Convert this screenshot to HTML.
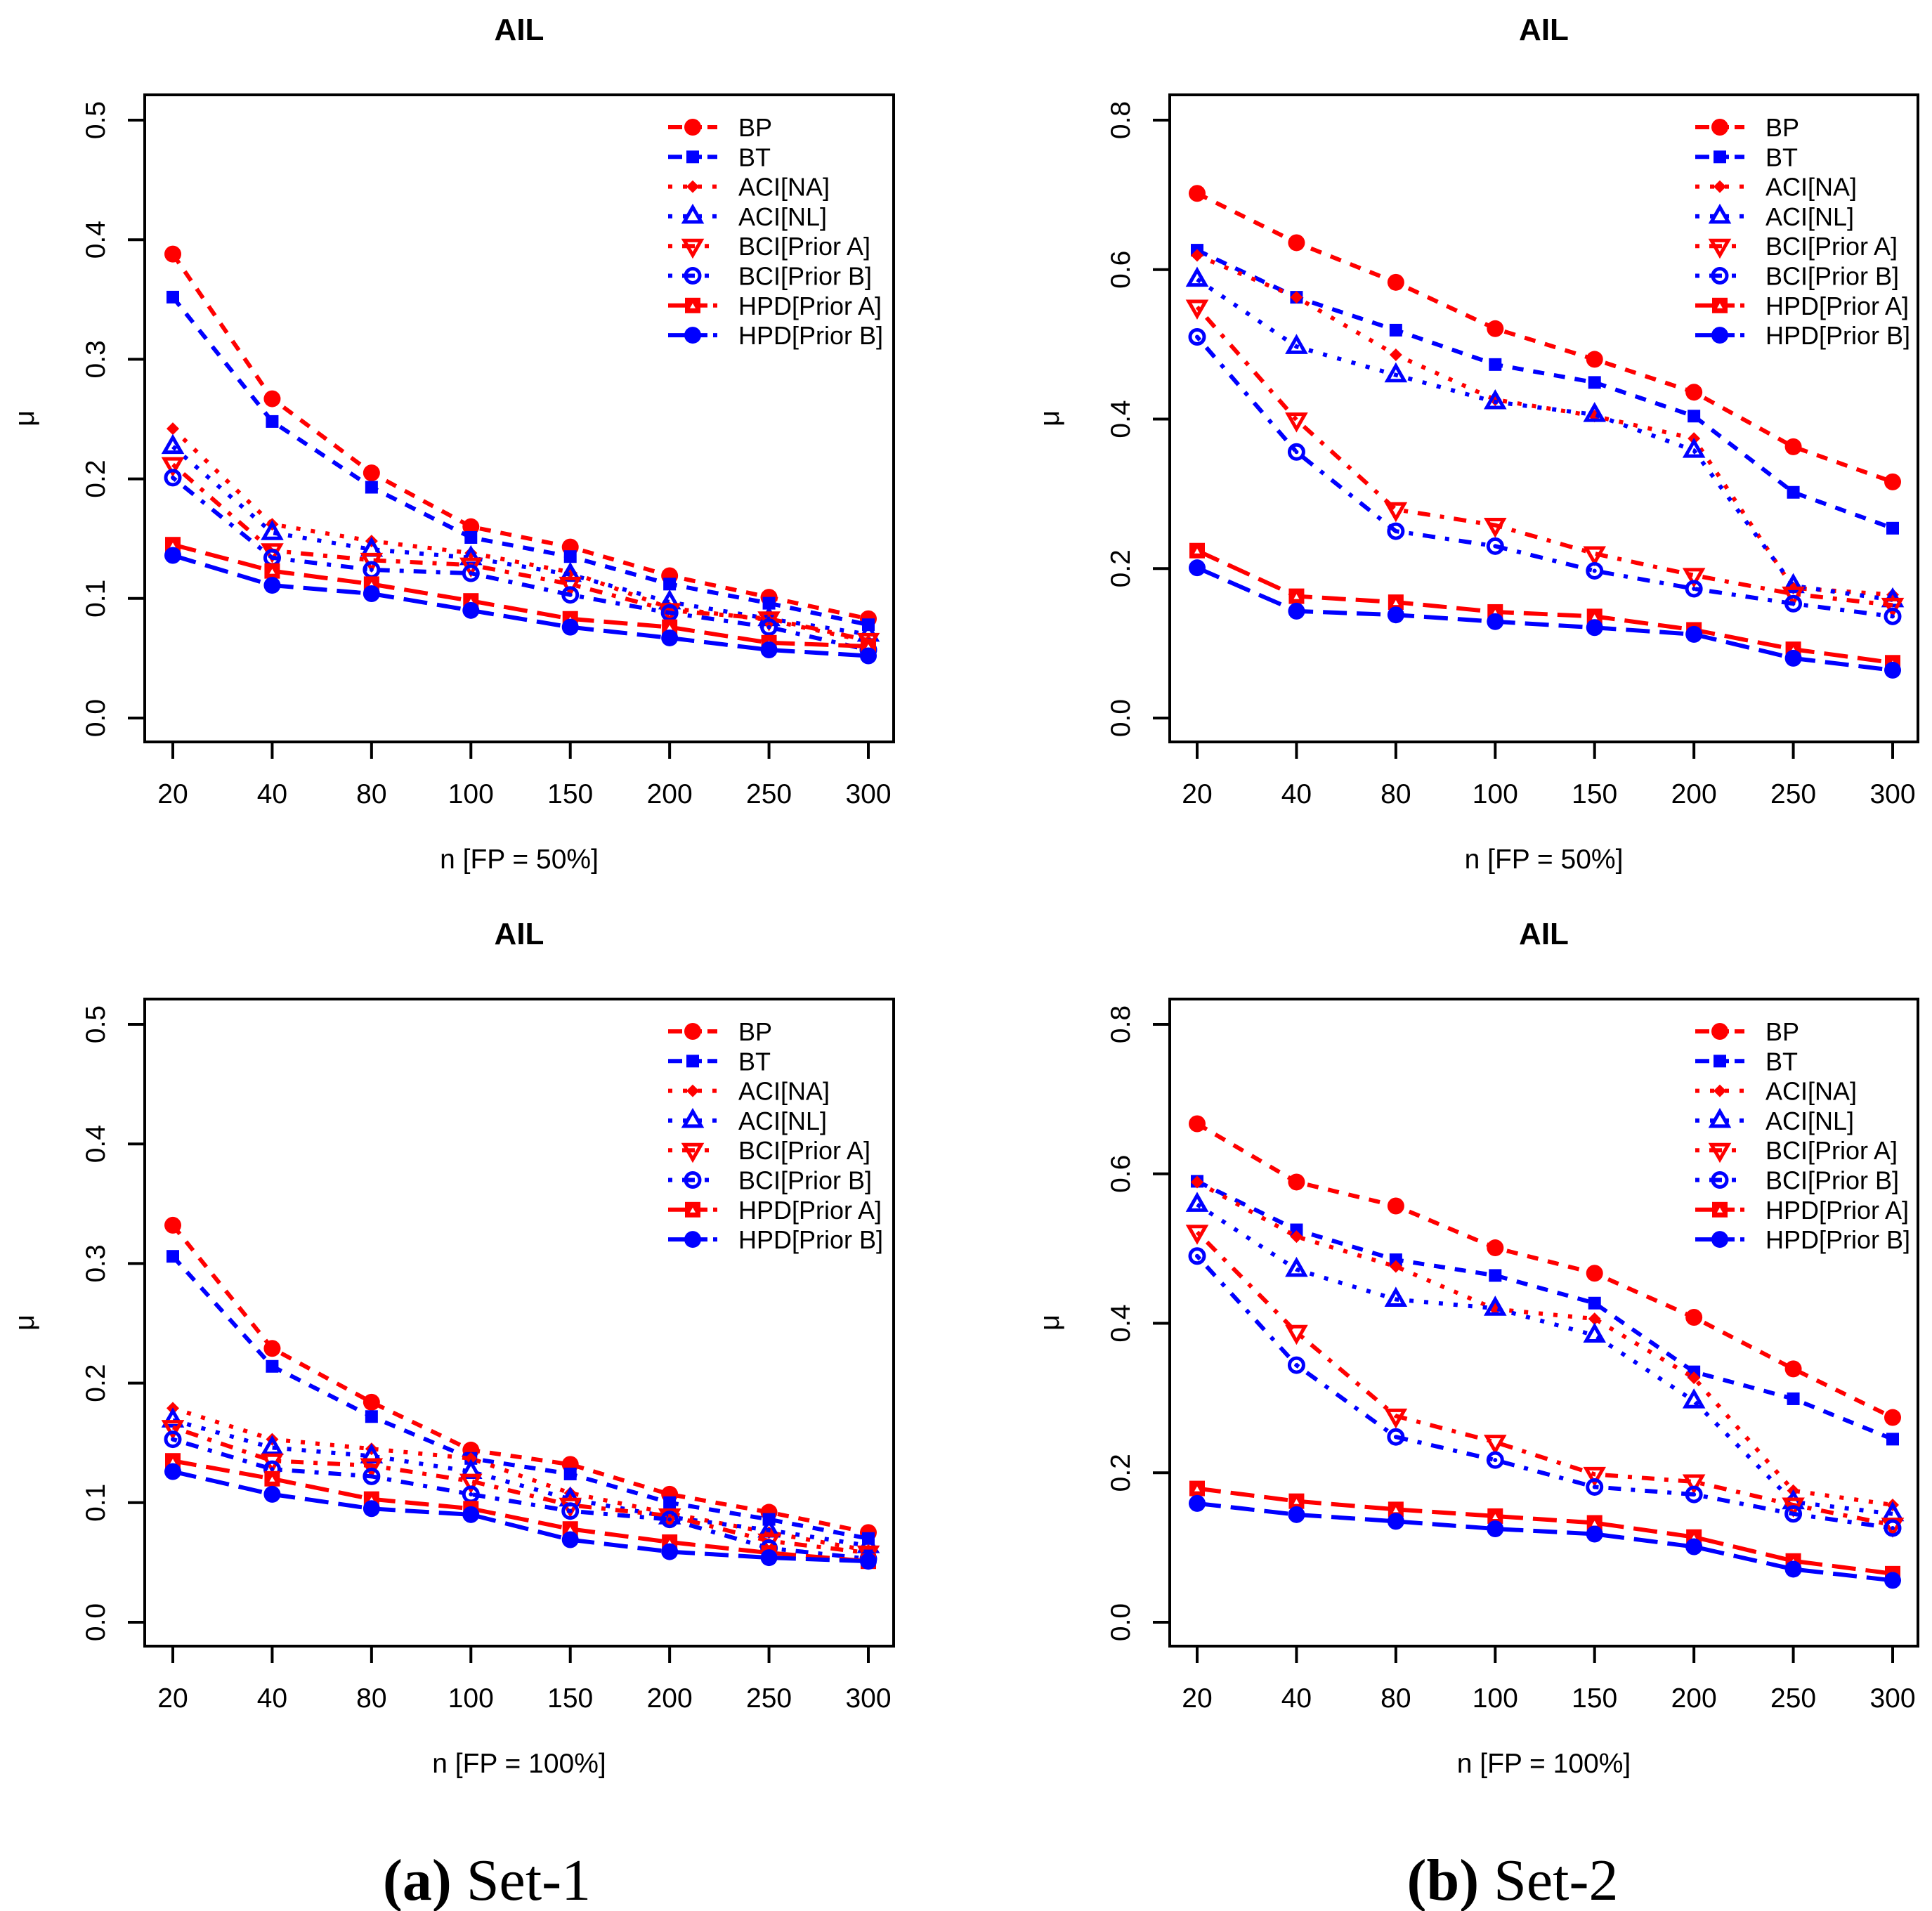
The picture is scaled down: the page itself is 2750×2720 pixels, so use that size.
<!DOCTYPE html>
<html><head><meta charset="utf-8"><style>
html,body{margin:0;padding:0;background:#fff;}
svg{display:block;font-family:"Liberation Sans",sans-serif;}
</style></head><body>
<svg id="fig" width="2750" height="2720" viewBox="0 0 2750 2720" xmlns="http://www.w3.org/2000/svg">
<rect width="2750" height="2720" fill="#fff"/>
<text x="693" y="2704" text-anchor="middle" font-family="Liberation Serif, serif" font-size="84"><tspan font-weight="bold">(a)</tspan> Set-1</text>
<text x="2153" y="2704" text-anchor="middle" font-family="Liberation Serif, serif" font-size="84"><tspan font-weight="bold">(b)</tspan> Set-2</text>
</svg>
<script>
const categories = ["20","40","80","100","150","200","250","300"];
const seriesNames = ["BP","BT","ACI[NA]","ACI[NL]","BCI[Prior A]","BCI[Prior B]","HPD[Prior A]","HPD[Prior B]"];
const yTicksSet1 = [0,0.1,0.2,0.3,0.4,0.5];
const yTickLabelsSet1 = ["0.0","0.1","0.2","0.3","0.4","0.5"];
const yTicksSet2 = [0,0.2,0.4,0.6,0.8];
const yTickLabelsSet2 = ["0.0","0.2","0.4","0.6","0.8"];
// Panel: Set-1, FP=50%
const s1fp50_BP   = [0.388,0.267,0.205,0.160,0.143,0.119,0.101,0.083];
const s1fp50_BT   = [0.352,0.248,0.193,0.151,0.135,0.112,0.096,0.078];
const s1fp50_ACINA= [0.242,0.162,0.148,0.138,0.122,0.092,0.082,0.064];
const s1fp50_ACINL= [0.227,0.155,0.141,0.134,0.120,0.097,0.083,0.070];
const s1fp50_BCIA = [0.212,0.140,0.132,0.128,0.112,0.090,0.083,0.065];
const s1fp50_BCIB = [0.201,0.134,0.124,0.121,0.103,0.088,0.076,0.057];
const s1fp50_HPDA = [0.145,0.123,0.112,0.098,0.083,0.076,0.063,0.060];
const s1fp50_HPDB = [0.136,0.111,0.104,0.090,0.076,0.067,0.057,0.052];
// Panel: Set-2, FP=50%
const s2fp50_BP   = [0.702,0.636,0.583,0.521,0.480,0.436,0.363,0.316];
const s2fp50_BT   = [0.626,0.563,0.519,0.473,0.449,0.404,0.302,0.254];
const s2fp50_ACINA= [0.619,0.563,0.486,0.426,0.404,0.374,0.174,0.165];
const s2fp50_ACINL= [0.587,0.497,0.459,0.423,0.406,0.358,0.177,0.158];
const s2fp50_BCIA = [0.550,0.399,0.279,0.258,0.220,0.191,0.166,0.151];
const s2fp50_BCIB = [0.510,0.356,0.250,0.230,0.197,0.173,0.153,0.136];
const s2fp50_HPDA = [0.224,0.163,0.155,0.142,0.136,0.118,0.092,0.074];
const s2fp50_HPDB = [0.201,0.143,0.138,0.129,0.121,0.112,0.080,0.064];
// Panel: Set-1, FP=100%
const s1fp100_BP   = [0.332,0.229,0.184,0.144,0.132,0.107,0.092,0.075];
const s1fp100_BT   = [0.306,0.214,0.172,0.137,0.124,0.100,0.086,0.070];
const s1fp100_ACINA= [0.179,0.153,0.145,0.137,0.108,0.091,0.075,0.060];
const s1fp100_ACINL= [0.169,0.146,0.139,0.126,0.103,0.088,0.077,0.064];
const s1fp100_BCIA = [0.163,0.135,0.131,0.118,0.098,0.089,0.068,0.058];
const s1fp100_BCIB = [0.153,0.128,0.122,0.107,0.093,0.086,0.062,0.053];
const s1fp100_HPDA = [0.135,0.120,0.103,0.095,0.078,0.067,0.058,0.051];
const s1fp100_HPDB = [0.126,0.107,0.095,0.090,0.069,0.059,0.054,0.051];
// Panel: Set-2, FP=100%
const s2fp100_BP   = [0.667,0.589,0.557,0.501,0.467,0.408,0.339,0.274];
const s2fp100_BT   = [0.590,0.525,0.485,0.464,0.427,0.335,0.299,0.245];
const s2fp100_ACINA= [0.589,0.516,0.476,0.419,0.406,0.327,0.176,0.157];
const s2fp100_ACINL= [0.559,0.472,0.432,0.420,0.384,0.296,0.161,0.145];
const s2fp100_BCIA = [0.522,0.388,0.276,0.241,0.198,0.188,0.157,0.130];
const s2fp100_BCIB = [0.490,0.344,0.248,0.217,0.181,0.171,0.145,0.126];
const s2fp100_HPDA = [0.179,0.162,0.151,0.142,0.133,0.114,0.082,0.065];
const s2fp100_HPDB = [0.159,0.144,0.135,0.125,0.118,0.101,0.071,0.056];

const NS="http://www.w3.org/2000/svg";
const svg=document.getElementById('fig');
function mk(tag,attrs,parent){const e=document.createElementNS(NS,tag);for(const k in attrs)e.setAttribute(k,attrs[k]);(parent||svg).appendChild(e);return e;}

const RED="#ff0000", BLUE="#0000ff";
const styles=[
 {c:RED,dash:"16 14",ldash:"20 8",m:"circle"},
 {c:BLUE,dash:"16 14",ldash:"20 8",m:"square"},
 {c:RED,dash:"6 15",ldash:"6 15",m:"diamond"},
 {c:BLUE,dash:"6 15",ldash:"6 15",m:"triangle"},
 {c:RED,dash:"6 14 18 14",ldash:"6 14 18 14",m:"dtriangle"},
 {c:BLUE,dash:"6 14 18 14",ldash:"6 14 18 14",m:"circledot"},
 {c:RED,dash:"34 14",ldash:"24 8",m:"sqtri"},
 {c:BLUE,dash:"34 14",ldash:"24 8",m:"circleplus"}
];

function marker(g,type,x,y,c){
  let e;
  if(type==="circle"){e=mk('circle',{cx:x,cy:y,r:12,fill:c},g);}
  else if(type==="square"){e=mk('rect',{x:x-9,y:y-9,width:18,height:18,fill:c},g);}
  else if(type==="diamond"){e=mk('polygon',{points:`${x},${y-9} ${x+9},${y} ${x},${y+9} ${x-9},${y}`,fill:c},g);}
  else if(type==="triangle"){e=mk('polygon',{points:`${x},${y-13} ${x+12},${y+8} ${x-12},${y+8}`,fill:"none",stroke:c,"stroke-width":5},g);}
  else if(type==="dtriangle"){e=mk('polygon',{points:`${x},${y+13} ${x+12},${y-8} ${x-12},${y-8}`,fill:"none",stroke:c,"stroke-width":5},g);}
  else if(type==="circledot"){e=mk('g',{},g);mk('circle',{cx:x,cy:y,r:10,fill:"none",stroke:c,"stroke-width":5},e);mk('circle',{cx:x,cy:y,r:3,fill:c},e);}
  else if(type==="sqtri"){e=mk('g',{},g);mk('rect',{x:x-11,y:y-11,width:22,height:22,fill:c},e);mk('polygon',{points:`${x},${y-3} ${x+4},${y+4} ${x-4},${y+4}`,fill:"#fff"},e);}
  else if(type==="circleplus"){e=mk('circle',{cx:x,cy:y,r:12,fill:c},g);}
  return e;
}

function panel(p){
  const g=mk('g',{});
  
  
  const xs=i=>p.x0+(p.x1-p.x0)*i/(categories.length-1);
  const ys=v=>p.y0+(p.yTop-p.y0)*v/p.yMax;
  const box=mk('rect',{x:p.L,y:p.T,width:p.R-p.L,height:p.B-p.T,fill:"none",stroke:"#000","stroke-width":4},g);
  
  
  const t=mk('text',{x:(p.L+p.R)/2,y:p.T-78,"text-anchor":"middle","font-size":44,"font-weight":"bold"},g);
  t.textContent="AIL";
  
  
  const xa=mk('g',{},g);
  
  
  categories.forEach((c,i)=>{
    mk('line',{x1:xs(i),x2:xs(i),y1:p.B,y2:p.B+24,stroke:"#000","stroke-width":4},xa);
    const tl=mk('text',{x:xs(i),y:p.B+87,"text-anchor":"middle","font-size":39},xa);
    tl.textContent=c;
    
    
  });
  const xl=mk('text',{x:(p.L+p.R)/2,y:p.B+180,"text-anchor":"middle","font-size":39},g);
  xl.textContent=p.xlabel;
  
  
  const ya=mk('g',{},g);
  
  
  p.yt.forEach((v,i)=>{
    mk('line',{x1:p.L-24,x2:p.L,y1:ys(v),y2:ys(v),stroke:"#000","stroke-width":4},ya);
    const tx=p.L-57;
    const tl=mk('text',{x:tx,y:ys(v),"text-anchor":"middle","font-size":39,transform:`rotate(-90 ${tx} ${ys(v)})`},ya);
    tl.textContent=p.ytl[i];
    
    
  });
  const ymid=(p.T+p.B)/2;
  const yl=mk('text',{x:p.L-158,y:ymid,"text-anchor":"middle","font-size":40,transform:`rotate(-90 ${p.L-158} ${ymid})`},g);
  yl.textContent="μ";
  
  
  p.series.forEach((vals,si)=>{
    const st=styles[si];
    const sg=mk('g',{},g);
    
    
    const pts=vals.map((v,i)=>xs(i)+","+ys(v)).join(" ");
    mk('polyline',{points:pts,fill:"none",stroke:st.c,"stroke-width":6,"stroke-dasharray":st.dash},sg);
    vals.forEach((v,i)=>{
      const m=marker(sg,st.m,xs(i),ys(v),st.c);
      
      
    });
  });
  const lg=mk('g',{},g);
  
  
  seriesNames.forEach((n,i)=>{
    const yy=p.T+46+i*42.3;
    const le=mk('g',{},lg);
    
    
    const st=styles[i];
    mk('line',{x1:p.legX,x2:p.legX+70,y1:yy,y2:yy,stroke:st.c,"stroke-width":6,"stroke-dasharray":st.ldash},le);
    marker(le,st.m,p.legX+35,yy,st.c);
    const tx=mk('text',{x:p.legX+100,y:yy+13,"font-size":36},le);
    tx.textContent=n;
  });
}

panel({name:'panel-set1-fp50',L:206,R:1272,T:135,B:1056,x0:246,x1:1236,y0:1022,yTop:171,yMax:0.5,yt:yTicksSet1,ytl:yTickLabelsSet1,xlabel:"n [FP = 50%]",legX:951,
  series:[s1fp50_BP,s1fp50_BT,s1fp50_ACINA,s1fp50_ACINL,s1fp50_BCIA,s1fp50_BCIB,s1fp50_HPDA,s1fp50_HPDB]});
panel({name:'panel-set2-fp50',L:1665,R:2730,T:135,B:1056,x0:1704,x1:2694,y0:1022,yTop:171,yMax:0.8,yt:yTicksSet2,ytl:yTickLabelsSet2,xlabel:"n [FP = 50%]",legX:2413,
  series:[s2fp50_BP,s2fp50_BT,s2fp50_ACINA,s2fp50_ACINL,s2fp50_BCIA,s2fp50_BCIB,s2fp50_HPDA,s2fp50_HPDB]});
panel({name:'panel-set1-fp100',L:206,R:1272,T:1422,B:2343,x0:246,x1:1236,y0:2309,yTop:1458,yMax:0.5,yt:yTicksSet1,ytl:yTickLabelsSet1,xlabel:"n [FP = 100%]",legX:951,
  series:[s1fp100_BP,s1fp100_BT,s1fp100_ACINA,s1fp100_ACINL,s1fp100_BCIA,s1fp100_BCIB,s1fp100_HPDA,s1fp100_HPDB]});
panel({name:'panel-set2-fp100',L:1665,R:2730,T:1422,B:2343,x0:1704,x1:2694,y0:2309,yTop:1458,yMax:0.8,yt:yTicksSet2,ytl:yTickLabelsSet2,xlabel:"n [FP = 100%]",legX:2413,
  series:[s2fp100_BP,s2fp100_BT,s2fp100_ACINA,s2fp100_ACINL,s2fp100_BCIA,s2fp100_BCIB,s2fp100_HPDA,s2fp100_HPDB]});
</script>
</body></html>
